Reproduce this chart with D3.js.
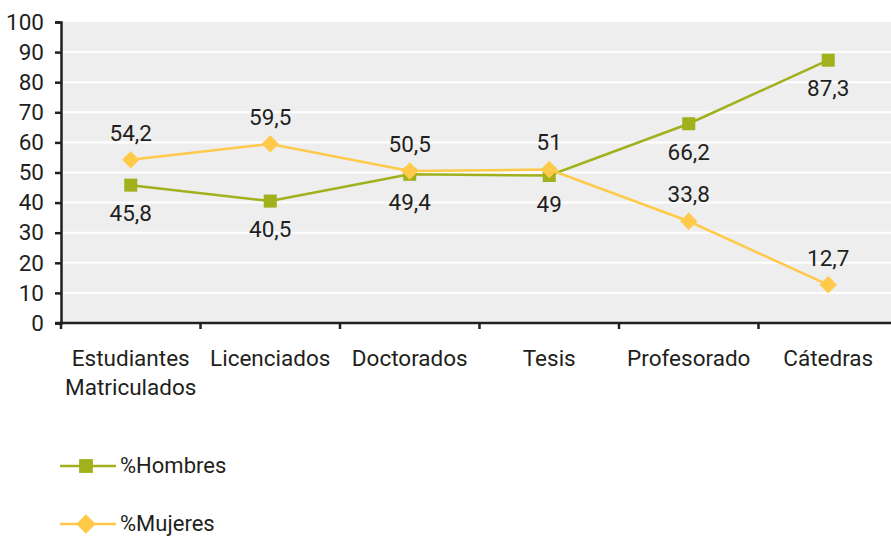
<!DOCTYPE html>
<html>
<head>
<meta charset="utf-8">
<script src="https://cdn.jsdelivr.net/npm/d3@7"></script>
<style>
  body { margin: 0; background: #fff; }
  text { font-family: "Liberation Sans Narrow", "Arial Narrow", "Roboto", sans-serif; fill: #231f20; }
</style>
</head>
<body>
<script>
// chart data
var categories = [["Estudiantes", "Matriculados"], ["Licenciados"], ["Doctorados"], ["Tesis"], ["Profesorado"], ["Cátedras"]];
var hombres = [45.8, 40.5, 49.4, 49, 66.2, 87.3];
var mujeres = [54.2, 59.5, 50.5, 51, 33.8, 12.7];
var hombresLabels = ["45,8", "40,5", "49,4", "49", "66,2", "87,3"];
var mujeresLabels = ["54,2", "59,5", "50,5", "51", "33,8", "12,7"];
var yTicks = [0, 10, 20, 30, 40, 50, 60, 70, 80, 90, 100];

var svg_width = 891, svg_height = 537;
var green = "#a0b11c", yellow = "#ffc94a";
var fontSize = "22.5px";

var svg = d3.select("body").append("svg")
    .attr("width", svg_width)
    .attr("height", svg_height);

//plot area
var plotLeft = 61, plotRight = 898, plotTop = 22, plotBottom = 323;

var x = d3.scaleBand()
    .domain(d3.range(categories.length))
    .range([plotLeft, plotRight]);
var y = d3.scaleLinear()
    .domain([0, 100])
    .range([plotBottom, plotTop]);

svg.append("rect")
    .attr("x", plotLeft).attr("y", plotTop)
    .attr("width", plotRight - plotLeft).attr("height", plotBottom - plotTop)
    .attr("fill", "#eeeeee");

//white gridlines
svg.append("g").selectAll("line")
    .data(yTicks.filter(function(d) { return d > 0 && d < 100; }))
    .enter().append("line")
    .attr("x1", plotLeft).attr("x2", plotRight)
    .attr("y1", function(d) { return y(d); })
    .attr("y2", function(d) { return y(d); })
    .attr("stroke", "#fff")
    .attr("stroke-width", 2);

//y axis
var yAxis = svg.append("g")
    .attr("transform", "translate(" + plotLeft + ",0)")
    .call(d3.axisLeft(y).tickValues(yTicks).tickSize(6).tickPadding(11));
yAxis.select(".domain").attr("stroke", "#231f20").attr("stroke-width", 2.5);
yAxis.selectAll(".tick line").attr("stroke", "#231f20").attr("stroke-width", 2.5);
yAxis.selectAll("text").style("font-size", fontSize).attr("fill", "#231f20");

//x axis
var xAxis = svg.append("g")
    .attr("transform", "translate(0," + plotBottom + ")");
xAxis.append("line")
    .attr("x1", plotLeft - 6).attr("x2", plotRight)
    .attr("stroke", "#231f20").attr("stroke-width", 2.5);
xAxis.selectAll(".xtick")
    .data(d3.range(categories.length + 1))
    .enter().append("line")
    .attr("x1", function(d) { return plotLeft + d * x.step(); })
    .attr("x2", function(d) { return plotLeft + d * x.step(); })
    .attr("y1", 0).attr("y2", 6)
    .attr("stroke", "#231f20").attr("stroke-width", 2.5);
var xl = xAxis.selectAll(".xlabel")
    .data(categories)
    .enter().append("text")
    .attr("text-anchor", "middle")
    .attr("x", function(d, i) { return x(i) + x.bandwidth() / 2; })
    .attr("y", 43)
    .style("font-size", fontSize);
xl.selectAll("tspan")
    .data(function(d) { return d; })
    .enter().append("tspan")
    .attr("x", function() { return d3.select(this.parentNode).attr("x"); })
    .attr("dy", function(d, i) { return i === 0 ? 0 : 29; })
    .text(function(d) { return d; });

var cx = function(d, i) { return x(i) + x.bandwidth() / 2; };
var line = d3.line()
    .x(cx)
    .y(function(d) { return y(d); });

//hombres series
svg.append("path").datum(hombres)
    .attr("d", line)
    .attr("fill", "none").attr("stroke", green).attr("stroke-width", 2.5);
svg.append("g").selectAll("path")
    .data(hombres).enter().append("path")
    .attr("d", d3.symbol().type(d3.symbolSquare).size(170))
    .attr("transform", function(d, i) { return "translate(" + cx(d, i) + "," + y(d) + ")"; })
    .attr("fill", green);

//mujeres series
svg.append("path").datum(mujeres)
    .attr("d", line)
    .attr("fill", "none").attr("stroke", yellow).attr("stroke-width", 2.5);
svg.append("g").selectAll("path")
    .data(mujeres).enter().append("path")
    .attr("d", d3.symbol().type(d3.symbolSquare).size(150))
    .attr("transform", function(d, i) { return "translate(" + cx(d, i) + "," + y(d) + ") rotate(45)"; })
    .attr("fill", yellow);

//value labels
svg.append("g").selectAll("text")
    .data(hombres).enter().append("text")
    .attr("text-anchor", "middle")
    .attr("x", cx)
    .attr("y", function(d) { return y(d) + 36; })
    .style("font-size", fontSize)
    .text(function(d, i) { return hombresLabels[i]; });
svg.append("g").selectAll("text")
    .data(mujeres).enter().append("text")
    .attr("text-anchor", "middle")
    .attr("x", cx)
    .attr("y", function(d) { return y(d) - 19; })
    .style("font-size", fontSize)
    .text(function(d, i) { return mujeresLabels[i]; });

//legend
var legend = [{name: "%Hombres", color: green, shape: "square", y: 466},
              {name: "%Mujeres", color: yellow, shape: "diamond", y: 524}];
var lg = svg.append("g").selectAll("g")
    .data(legend).enter().append("g")
    .attr("transform", function(d) { return "translate(0," + d.y + ")"; });
lg.append("line")
    .attr("x1", 60).attr("x2", 116)
    .attr("stroke", function(d) { return d.color; }).attr("stroke-width", 2.5);
lg.append("path")
    .attr("d", d3.symbol().type(d3.symbolSquare).size(190))
    .attr("transform", function(d) { return "translate(86,0)" + (d.shape === "diamond" ? " rotate(45)" : ""); })
    .attr("fill", function(d) { return d.color; });
lg.append("text")
    .attr("x", 120).attr("y", 7)
    .style("font-size", "22px")
    .text(function(d) { return d.name; });
</script>
</body>
</html>
